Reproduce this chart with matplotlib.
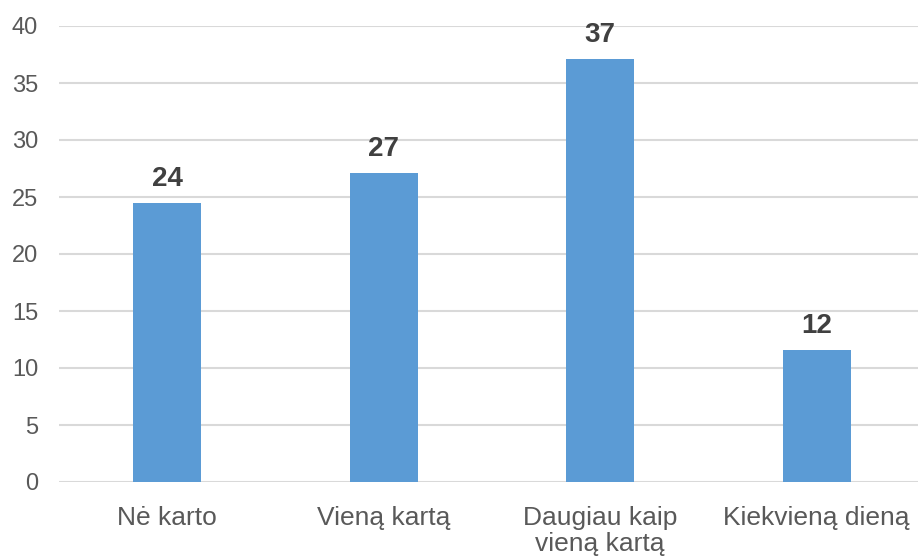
import matplotlib
matplotlib.use("Agg")
import matplotlib.pyplot as plt

categories = ["Nė karto", "Vieną kartą", "Daugiau kaip\nvieną kartą", "Kiekvieną dieną"]
values = [24.5, 27.1, 37.1, 11.6]
value_labels = ["24", "27", "37", "12"]
yticks = [0, 5, 10, 15, 20, 25, 30, 35, 40]

plt.rcParams['font.family'] = ['Liberation Sans', 'DejaVu Sans']

W, H = 918, 556
fig = plt.figure(figsize=(W/100, H/100), dpi=100)
ax = fig.add_axes([59/W, (H-482)/H, (918-59)/W, (482-26)/H])

x = list(range(len(categories)))
ax.bar(x, values, width=0.314, color="#5B9BD5", zorder=3)
for xi, v, lab in zip(x, values, value_labels):
    ax.annotate(lab, (xi, v), xytext=(0, 8), textcoords="offset points",
                ha="center", va="bottom", fontsize=20, fontweight="bold", color="#404040")

ax.set_xlim(-0.5, 3.468)
ax.set_ylim(0, 40)
ax.set_yticks(yticks)
ax.set_xticks(x)
ax.set_xticklabels(categories, fontsize=19, color="#595959", linespacing=1.1)
ax.tick_params(axis='y', labelsize=17, labelcolor="#595959", length=0, pad=15)
ax.tick_params(axis='x', length=0, pad=17)
ax.grid(axis='y', color="#D9D9D9", linewidth=1.5, zorder=0)
for s in ax.spines.values():
    s.set_visible(False)

fig.savefig("out.png", dpi=100)
